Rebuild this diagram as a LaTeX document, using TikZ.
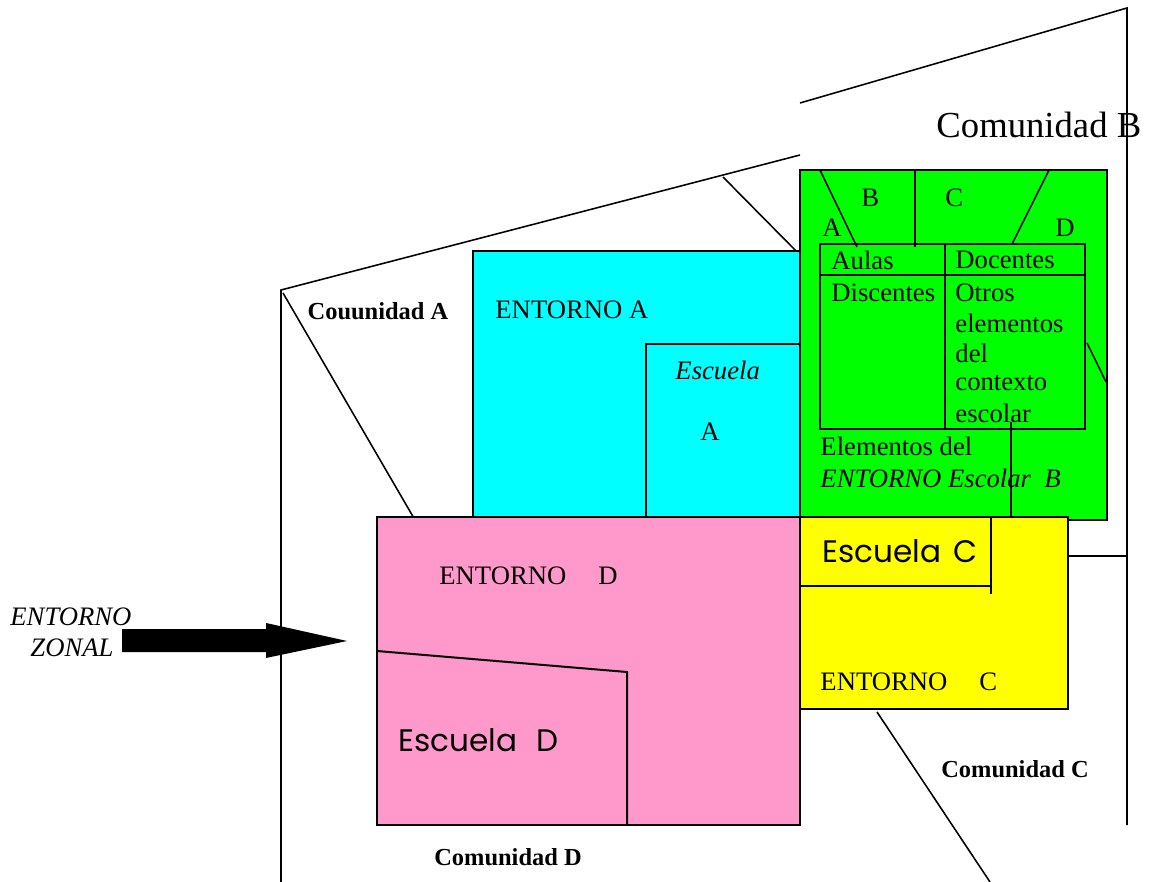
\documentclass[tikz,border=0pt]{standalone}
\usepackage{fontspec}
\setmainfont{Liberation Serif}
\newfontfamily\comicfont{Poppins}
\usetikzlibrary{positioning}
\definecolor{entA}{RGB}{0,255,255}
\definecolor{entB}{RGB}{0,255,0}
\definecolor{entC}{RGB}{255,255,0}
\definecolor{entD}{RGB}{255,153,204}

\begin{document}
\begin{tikzpicture}[x=0.45pt,y=-0.45pt,
  box/.style={draw,line width=0.9pt},
  edge/.style={line width=0.7pt},
  txt/.style={inner sep=0pt,anchor=west,font=\fontsize{12}{14}\selectfont},
  comu/.style={inner sep=0pt,font=\fontsize{11}{13}\selectfont\bfseries},
  esc/.style={inner sep=0pt,anchor=west,font=\fontsize{14}{16}\selectfont\comicfont}]
\useasboundingbox (0,0) rectangle (1150,882);
% outer lines
\draw[edge] (281,882) -- (281,290) -- (800,155);
\draw[edge] (800,103) -- (1127,8) -- (1127,825);
\draw[edge] (723,177) -- (800,255);
\draw[edge] (283,293) -- (415,520);
\draw[edge] (877,712) -- (990,882);
\draw[edge] (1068,556) -- (1127,556);
% entornos
\draw[box,fill=entA] (473,251) rectangle (800,517);
\draw[box] (646,517) |- (800,344);
\draw[box,fill=entB] (800,170) rectangle (1107,520);
\draw[box,fill=entD] (377,517) rectangle (800,825);
\draw[box] (377,651) -- (627,672) -- (627,825);
\draw[box,fill=entC] (800,517) rectangle (1068,709);
\draw[box] (800,586) -- (991,586);
\draw[box] (991,517) -- (991,594);
% tabla B
\draw[box] (820,244) rectangle (1085,429);
\draw[box] (820,275) -- (1085,275);
\draw[box] (945,244) -- (945,429);
\draw[edge] (820,170) -- (857,247);
\draw[edge] (915,170) -- (915,247);
\draw[edge] (1049,170) -- (1012,244);
\draw[edge] (1011,422) -- (1011,517);
\draw[edge] (1087,343) -- (1106,382);
% flecha
\fill (122,629) -- (266,629) -- (266,623) -- (347,641) -- (266,658) -- (266,652)
  -- (122,652) -- cycle;
% textos
\node[txt,font=\fontsize{12}{14}\selectfont\itshape] (zon1) at (10,617) {ENTORNO};
\node[txt,font=\fontsize{12}{14}\selectfont\itshape] (zon2) at (30,648) {ZONAL};
\node[comu] (comA) at (378,311) {Couunidad A};
\node[comu] (comC) at (1015,769) {Comunidad C};
\node[comu] (comD) at (508,857) {Comunidad D};
\node[txt,font=\fontsize{16.5}{18}\selectfont] (comB) at (936,125) {Comunidad B};
\node[txt] (entA) at (495,310) {ENTORNO A};
\node[txt,font=\fontsize{12}{14}\selectfont\itshape] (escA) at (675,370) {Escuela};
\node[txt] (escAl) at (700,432) {A};
\node[txt] (lB) at (861,198) {B};
\node[txt] (lC) at (945,198) {C};
\node[txt] (lA) at (822,228) {A};
\node[txt] (lD) at (1055,228) {D};
\node[txt] (aulas) at (831,260) {Aulas};
\node[txt] (doc) at (955,260) {Docentes};
\node[txt] (disc) at (831,293) {Discentes};
\foreach \w [count=\i] in {Otros,elementos,del,contexto,escolar}
  \node[txt] (otros\i) at (955,263+30*\i) {\w};
\node[txt] (elem) at (820,446) {Elementos del};
\node[txt,font=\fontsize{12}{14}\selectfont\itshape] (entB) at (820,478) {ENTORNO Escolar\ \ B};
\node[txt] (entD) at (439,576) {ENTORNO\hspace{1.2em}D};
\node[esc] (escD) at (398,740) {Escuela\hspace{0.6em}D};
\node[esc] (escC) at (822,551) {Escuela\hspace{0.4em}C};
\node[txt] (entC) at (820,682) {ENTORNO\hspace{1.2em}C};
\end{tikzpicture}
\end{document}
